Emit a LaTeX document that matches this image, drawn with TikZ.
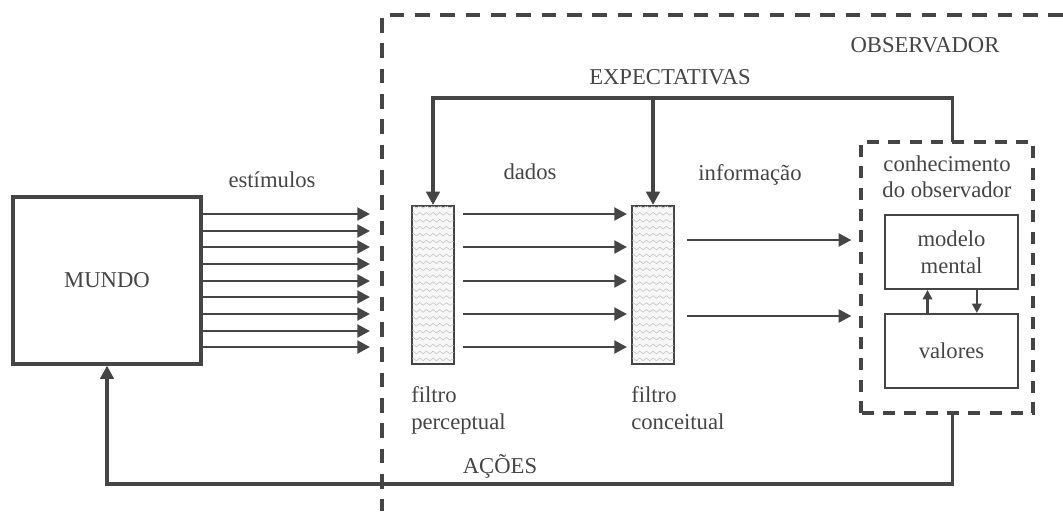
\documentclass[tikz,border=0pt]{standalone}
\usepackage{fontspec}
\setmainfont{Liberation Serif}
\usetikzlibrary{arrows.meta,positioning,decorations.pathmorphing}
\definecolor{ink}{HTML}{454545}
\tikzset{
  box/.style={draw=ink,line width=2.6pt,inner sep=0pt,text=ink,font=\fontsize{17}{20}\selectfont},
  innerbox/.style={draw=ink,line width=1.5pt,minimum width=100pt,minimum height=55.5pt,align=center,
    text=ink,font=\fontsize{17}{20}\selectfont},
  filterbox/.style={draw=ink,line width=1.5pt,fill=gray!6,minimum width=31.5pt,minimum height=118.5pt},
  arr/.style={draw=ink,line width=2.6pt,-{Triangle[length=10pt,width=10pt]}},
  thinarr/.style={draw=ink,line width=2.2pt,-{Triangle[length=9.5pt,width=9.5pt]}},
  smallarr/.style={draw=ink,line width=1.8pt,-{Triangle[length=7pt,width=7pt]}},
  obsline/.style={draw=ink,line width=3pt,dash pattern=on 11pt off 8pt},
  knowline/.style={draw=ink,line width=3pt,dash pattern=on 9pt off 7pt},
  lbl/.style={text=ink,font=\fontsize{17}{20}\selectfont,inner sep=0pt},
  wave/.style={draw=gray!45,line width=0.45pt,decorate,decoration={snake,segment length=5pt,amplitude=1pt}}
}
\begin{document}
\begin{tikzpicture}[x=0.75pt,y=-0.75pt]
\useasboundingbox (0,0) rectangle (1063,511);

% observador
\coordinate (obs) at (382,15);
\draw[obsline] (1063,15) -- (obs) -- (382,511);
\node[lbl] (obslabel) at (925,45) {OBSERVADOR};

% mundo
\node[box,minimum width=141pt,minimum height=125pt] (mundo) at (107,280.5) {MUNDO};

% filtros
\node[filterbox] (perc) at (433,285) {};
\node[filterbox] (conc) at (653,285) {};
\foreach \f in {perc,conc}{
  \begin{scope}
    \clip ([shift={(1pt,1pt)}]\f.south west) rectangle ([shift={(-1pt,-1pt)}]\f.north east);
    \foreach \k in {0,...,23}
      \draw[wave] ([yshift=\k*5.2pt-1pt]\f.south west) -- ([yshift=\k*5.2pt-1pt]\f.south east);
  \end{scope}
}
\node[lbl,anchor=north west,align=left] (perclabel) at ([yshift=-16pt]perc.south west) {filtro\\perceptual};
\node[lbl,anchor=north west,align=left] (conclabel) at ([yshift=-16pt]conc.south west) {filtro\\conceitual};

% conhecimento
\node[minimum width=129pt,minimum height=203pt] (knowl) at (947,277.5) {};
\draw[knowline] (knowl.south west) rectangle (knowl.north east);
\node[lbl,align=center,below=10pt of knowl.north] (knowlabel) {conhecimento\\do observador};
\node[innerbox] (modelo) at (951.5,252) {modelo\\mental};
\node[innerbox] (valores) at (951.5,351) {valores};
\draw[smallarr] ([xshift=-18pt]valores.north) -- ([xshift=-18pt]modelo.south);
\draw[smallarr] ([xshift=19pt]modelo.south) -- ([xshift=19pt]valores.north);

% estimulos
\foreach \y in {214,231,247,264,281,297,314,331,347}
  \draw[thinarr,shorten >=9pt] (mundo.east |- 0,\y) -- (obs |- 0,\y);
\node[lbl] (estim) at (272,180) {estímulos};

% dados
\foreach \y in {214,247,281,314,347}
  \draw[thinarr,shorten <=6pt,shorten >=3pt] (perc.east |- 0,\y) -- (conc.west |- 0,\y);
\node[lbl] (dados) at (530,172) {dados};

% informacao
\foreach \y in {240,316}
  \draw[thinarr,shorten <=9pt,shorten >=7pt] (conc.east |- 0,\y) -- (knowl.west |- 0,\y);
\node[lbl] (info) at (750,175) {informação};

% expectativas
\coordinate (expl) at ([xshift=4pt]knowl.north);
\draw[arr] (expl) -- ++(0,-44) coordinate (exptop) -| (perc.north);
\draw[arr] (conc.north |- exptop) -- (conc.north);
\node[lbl] (expect) at (670,77) {EXPECTATIVAS};

% acoes
\draw[arr] ([xshift=4pt]knowl.south) -- ++(0,71) -| (mundo.south);
\node[lbl] (acoes) at (500,466) {AÇÕES};
\end{tikzpicture}
\end{document}
